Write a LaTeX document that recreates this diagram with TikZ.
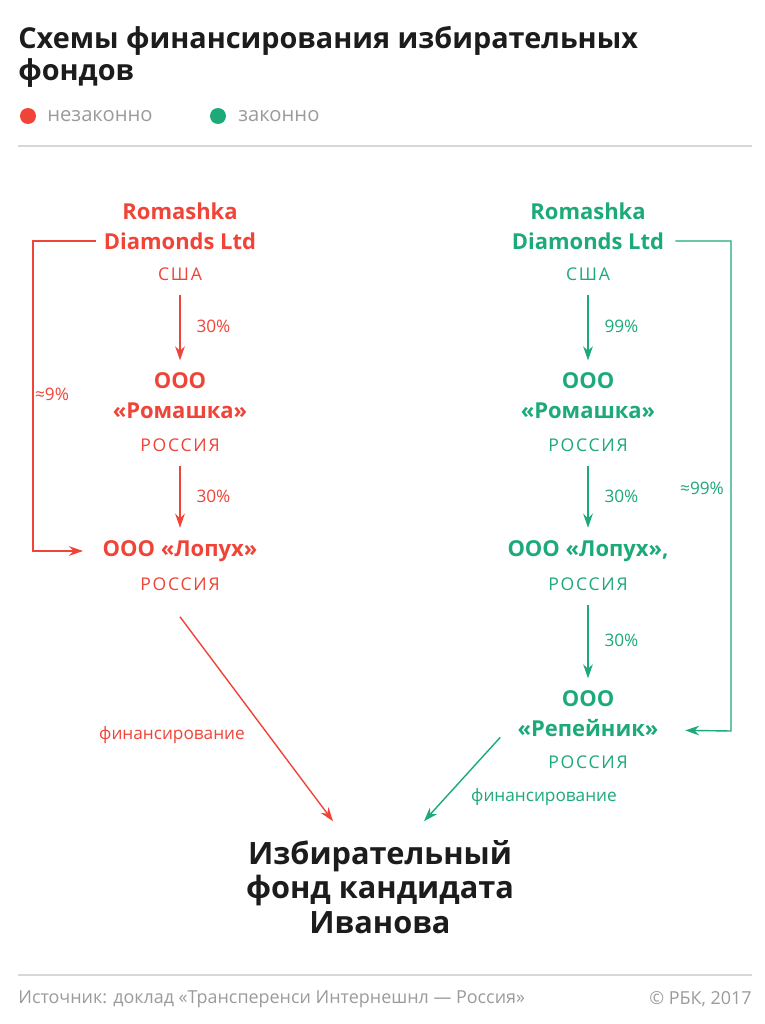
\documentclass[tikz,border=0pt]{standalone}
\usepackage{fontspec}
\setmainfont{Open Sans}
\newfontfamily\spacedfont[LetterSpace=10]{Open Sans}
\usetikzlibrary{arrows.meta}
\definecolor{illegal}{RGB}{240,68,56}
\definecolor{legal}{RGB}{28,170,120}
\definecolor{ink}{RGB}{28,28,28}
\definecolor{muted}{RGB}{155,155,155}
\definecolor{rulegray}{RGB}{215,215,215}

\begin{document}
\begin{tikzpicture}[x=0.02cm, y=-0.02cm,
  heading/.style={font=\fontsize{16.4}{18.2}\selectfont\bfseries, text=ink,
                  align=left, anchor=west, inner sep=0pt},
  org/.style={font=\fontsize{12.5}{17}\selectfont\bfseries, align=center, inner sep=0pt},
  country/.style={font=\spacedfont\fontsize{10}{12}\selectfont, inner sep=0pt},
  share/.style={font=\fontsize{9.8}{11}\selectfont, inner sep=0pt},
  legendtext/.style={font=\fontsize{11.5}{13}\selectfont, text=muted, anchor=west, inner sep=0pt},
  dot/.style={circle, inner sep=0pt, minimum size=0.32cm},
  foot/.style={font=\fontsize{10.2}{12}\selectfont, text=muted, inner sep=0pt},
  target/.style={font=\fontsize{17.5}{19.5}\selectfont\bfseries, text=ink, align=center, inner sep=0pt},
  link/.style={line width=0.8pt, -{Stealth[length=8pt,width=5.5pt]}},
  rule/.style={draw=rulegray, line width=0.6pt}
]
  \useasboundingbox[fill=white] (0,0) rectangle (764,1024);

  % heading and legend
  \node[heading] (ttl) at (18,57) {Схемы финансирования избирательных\\фондов};
  \node[dot, fill=illegal] (dotbad)  at (28,116)  {};
  \node[legendtext] (bad)  at (47,116)  {незаконно};
  \node[dot, fill=legal]   (dotgood) at (218,116) {};
  \node[legendtext] (good) at (238,116) {законно};
  \draw[rule] (18,146) -- (752,146);

  % illegal scheme
  \node[org, text=illegal]     (rdlL) at (180,226) {Romashka\\Diamonds Ltd};
  \node[country, text=illegal] (usaL) at (180,274) {США};
  \node[org, text=illegal]     (romL) at (180,396) {ООО\\«Ромашка»};
  \node[country, text=illegal] (ruL1) at (180,445) {РОССИЯ};
  \node[org, text=illegal]     (lopL) at (180,551) {ООО «Лопух»};
  \node[country, text=illegal] (ruL2) at (180,584) {РОССИЯ};
  \coordinate (kL) at (33,551);

  % legal scheme
  \node[org, text=legal]     (rdlR) at (588,226) {Romashka\\Diamonds Ltd};
  \node[country, text=legal] (usaR) at (588,274) {США};
  \node[org, text=legal]     (romR) at (588,396) {ООО\\«Ромашка»};
  \node[country, text=legal] (ruR1) at (588,445) {РОССИЯ};
  \node[org, text=legal]     (lopR) at (588,551) {ООО «Лопух»,};
  \node[country, text=legal] (ruR2) at (588,584) {РОССИЯ};
  \node[org, text=legal]     (repR) at (588,714) {ООО\\«Репейник»};
  \node[country, text=legal] (ruR3) at (588,762) {РОССИЯ};
  \coordinate (kR) at (731,731);

  \node[target] (fund) at (380,887) {Избирательный\\фонд кандидата\\Иванова};

  % illegal links
  \draw[link, illegal, shorten <=8pt, shorten >=7pt] (usaL) -- node[share, right=9pt] {30\%} (romL);
  \draw[link, illegal, shorten <=8pt, shorten >=7pt] (ruL1) -- node[share, right=9pt] {30\%} (lopL);
  \draw[link, illegal, shorten >=11pt] ([xshift=-0.16cm,yshift=-0.3cm]rdlL.west) -| (kL) -- (lopL.west);
  \node[share, text=illegal] (s9) at (52,394) {≈9\%};
  \draw[link, illegal] ([yshift=-0.52cm]ruL2.south) -- ([xshift=-0.94cm,yshift=0.38cm]fund.north);
  \node[share, text=illegal] (finL) at (172,735) {финансирование};

  % legal links
  \draw[link, legal, shorten <=8pt, shorten >=7pt] (usaR) -- node[share, right=9pt] {99\%} (romR);
  \draw[link, legal, shorten <=8pt, shorten >=7pt] (ruR1) -- node[share, right=9pt] {30\%} (lopR);
  \draw[link, legal, shorten <=8pt, shorten >=7pt] (ruR2) -- node[share, right=9pt] {30\%} (repR);
  \draw[link, legal, shorten >=15pt] ([xshift=0.22cm,yshift=-0.3cm]rdlR.east) -| (kR) -- ([yshift=-0.32cm]repR.east);
  \node[share, text=legal] (s99) at (702,488) {≈99\%};
  \draw[link, legal] ([xshift=-0.34cm]repR.south west) -- ([xshift=0.88cm,yshift=0.38cm]fund.north);
  \node[share, text=legal] (finR) at (544,797) {финансирование};

  % footer
  \draw[rule] (18,975) -- (752,975);
  \node[foot, anchor=west] (src)  at (18,999)  {Источник: доклад «Трансперенси Интернешнл — Россия»};
  \node[foot, anchor=east] (copy) at (752,999) {© РБК, 2017};
\end{tikzpicture}
\end{document}
